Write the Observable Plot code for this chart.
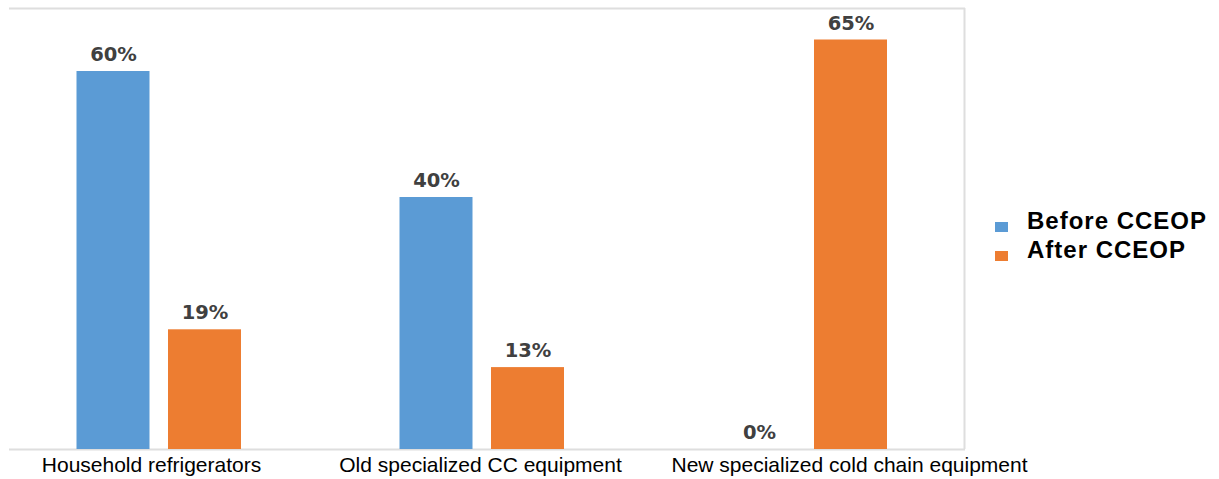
<!DOCTYPE html>
<html>
<head>
<meta charset="utf-8">
<script src="https://cdn.jsdelivr.net/npm/d3@7"></script>
<script src="https://cdn.jsdelivr.net/npm/@observablehq/plot@0.6"></script>
<style>
  body { margin: 0; background: #fff; }
  #chart { position: relative; width: 1219px; height: 479px; overflow: hidden; }
  #chart svg { position: absolute; left: 0; top: 0; }
  .legend-item { position: absolute; left: 995px; height: 24px; line-height: 24px;
    font-family: "Liberation Sans", Arial, sans-serif; font-weight: bold; font-size: 24px;
    letter-spacing: 1px; color: #000; white-space: nowrap; }
  .legend-item .sw { position: absolute; left: 0; top: 13px; width: 13px; height: 10px; }
  .legend-item .lb { position: absolute; left: 32px; top: 0; }
</style>
</head>
<body>
<div id="chart"></div>
<script>
// Share of cold chain equipment types, before and after the CCEOP programme
const categories = [
  "Household refrigerators",
  "Old specialized CC equipment",
  "New specialized cold chain equipment"
];
const seriesNames = ["Before CCEOP", "After CCEOP"];
const beforeValues = [60, 40, 0];
const afterValues = [19, 13, 65];
const seriesColors = ["#5B9BD5", "#ED7D31"];

// Long table built from the arrays above
const rows = categories.flatMap((category, i) => [
  {category, series: seriesNames[0], value: beforeValues[i]},
  {category, series: seriesNames[1], value: afterValues[i]}
]);

// Horizontal nudges for the category captions under each group
const captionShift = [-7.5, -1.5, 44.5];

const band = 323;            // width of one category band
const barOffset = [-45.5, 46]; // centre of each series bar relative to band centre
const barHalf = 36.5;

const border = "#dedede";

const chart = Plot.plot({
  width: 1219,
  height: 479,
  marginLeft: 9,
  marginRight: 254,
  marginTop: 8,
  marginBottom: 30,
  style: {fontFamily: "Liberation Sans, Arial, sans-serif", fontSize: "21px", color: "#000", background: "#fff", overflow: "visible"},
  x: {type: "band", domain: categories, range: [-3.5, -3.5 + 3 * band], padding: 0, axis: null},
  y: {domain: [0, 70], axis: null},
  color: {domain: seriesNames, range: seriesColors},
  marks: [
    Plot.ruleY([0, 70], {stroke: border, strokeWidth: 2}),
    Plot.ruleX([categories[2]], {x: d => d, dx: band / 2 - 2, stroke: border, strokeWidth: 2}),
    ...seriesNames.map((s, k) =>
      Plot.barY(rows.filter(d => d.series === s), {
        x: "category",
        y: "value",
        fill: "series",
        insetLeft: band / 2 + barOffset[k] - barHalf,
        insetRight: band / 2 - barOffset[k] - barHalf
      })
    ),
    ...seriesNames.map((s, k) =>
      Plot.text(rows.filter(d => d.series === s), {
        x: "category",
        y: "value",
        text: d => `${d.value}%`,
        dx: barOffset[k],
        dy: -10.5,
        lineAnchor: "bottom",
        fill: "#404040",
        fontFamily: "DejaVu Sans, sans-serif",
        fontWeight: "bold",
        fontSize: 19.5
      })
    ),
    ...categories.map((c, i) =>
      Plot.text([c], {
        x: d => d,
        text: d => d,
        frameAnchor: "bottom",
        lineAnchor: "top",
        dx: captionShift[i],
        dy: 8,
        fill: "#000",
        fontSize: 21
      })
    )
  ]
});

const root = document.getElementById("chart");
root.appendChild(chart);

// Legend placed to the right of the plot area
const legendTops = [209, 238];
seriesNames.forEach((name, k) => {
  const item = document.createElement("div");
  item.className = "legend-item";
  item.style.top = legendTops[k] + "px";
  const sw = document.createElement("span");
  sw.className = "sw";
  sw.style.background = seriesColors[k];
  const lb = document.createElement("span");
  lb.className = "lb";
  lb.textContent = name;
  item.appendChild(sw);
  item.appendChild(lb);
  root.appendChild(item);
});
</script>
</body>
</html>
